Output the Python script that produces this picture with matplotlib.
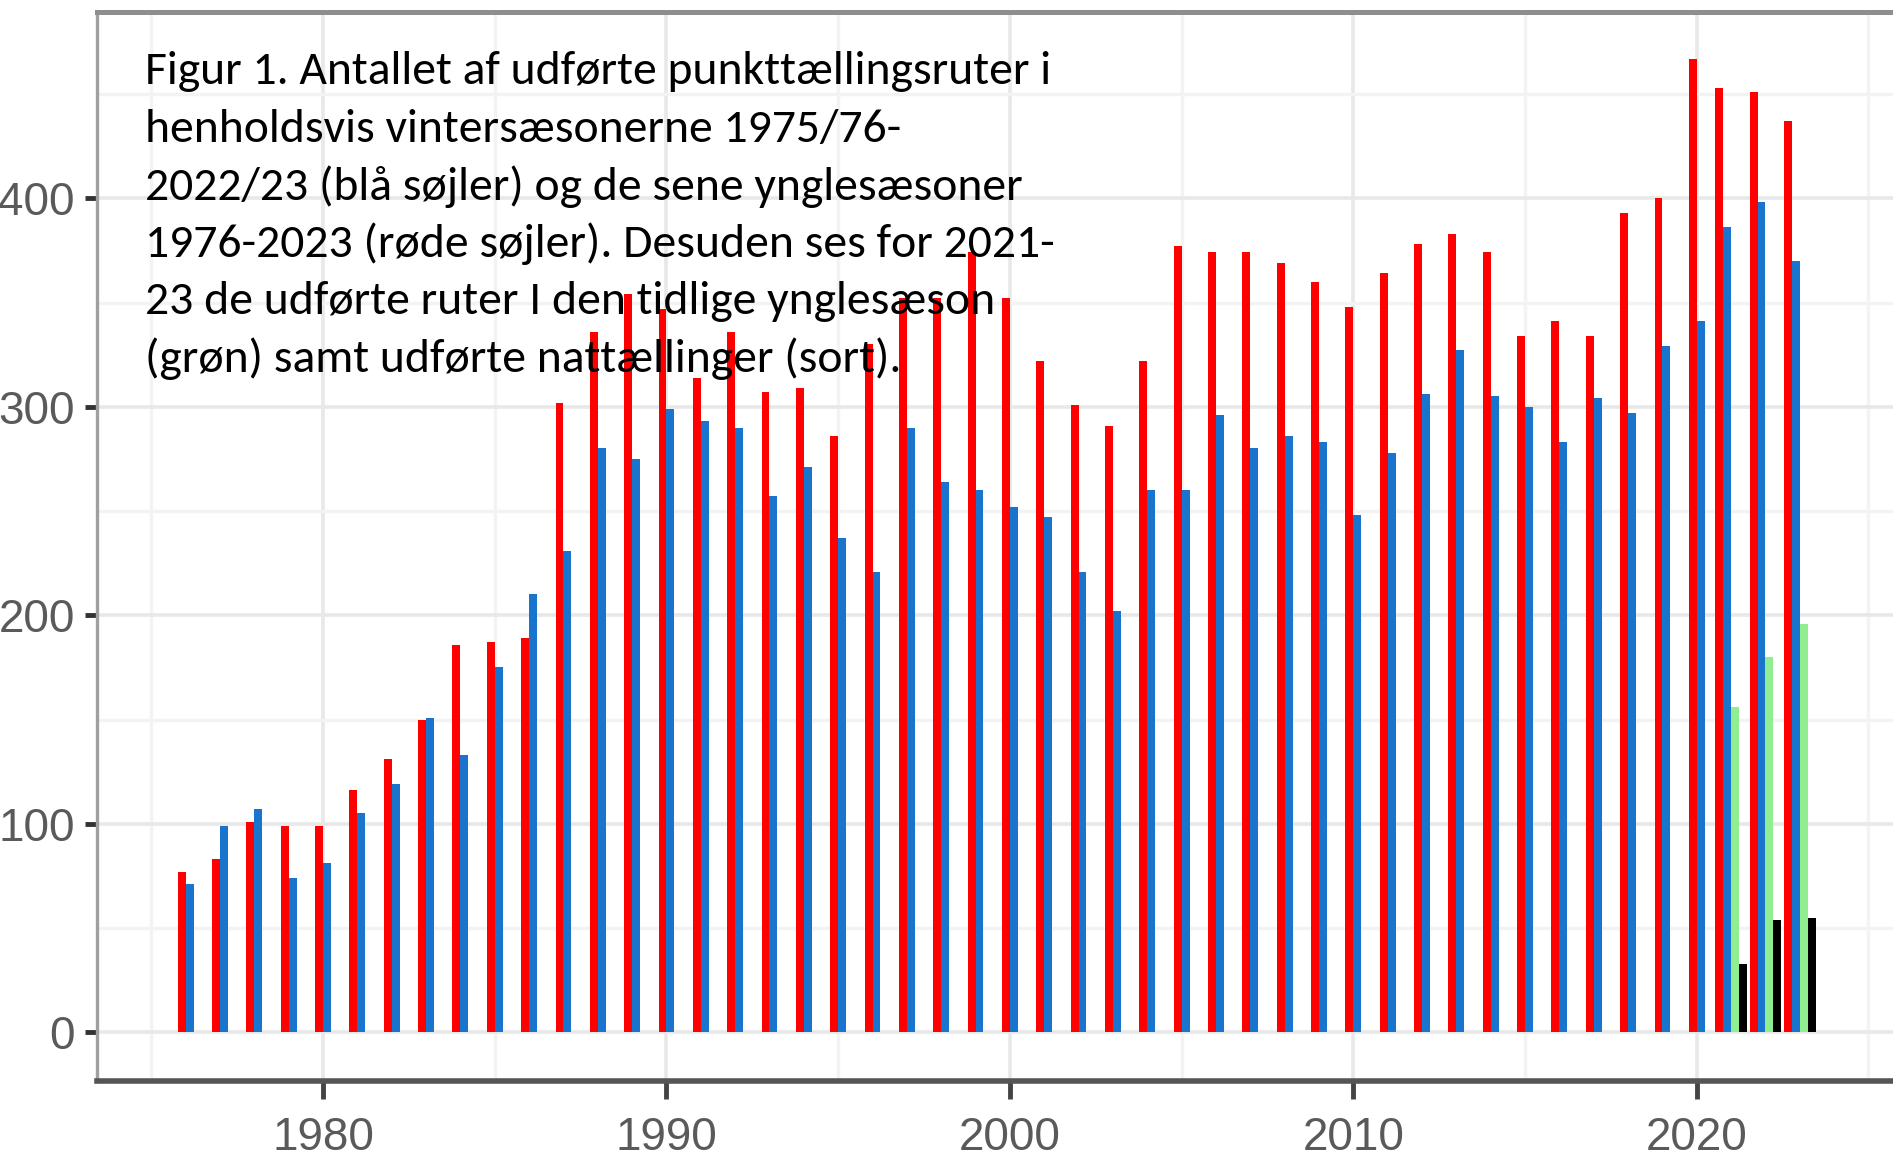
import numpy as np
import matplotlib
matplotlib.use("Agg")
import matplotlib.pyplot as plt
from matplotlib import font_manager as fm

# --- data ---
years = np.arange(1976, 2024)
late_breeding = [77, 83, 101, 99, 99, 116, 131, 150, 186, 187,
                 189, 302, 336, 354, 347, 314, 336, 307, 309, 286,
                 330, 352, 352, 374, 352, 322, 301, 291, 322, 377,
                 374, 374, 369, 360, 348, 364, 378, 383, 374, 334,
                 341, 334, 393, 400, 467, 453, 451, 437]
winter = [71, 99, 107, 74, 81, 105, 119, 151, 133, 175,
          210, 231, 280, 275, 299, 293, 290, 257, 271, 237,
          221, 290, 264, 260, 252, 247, 221, 202, 260, 260,
          296, 280, 286, 283, 248, 278, 306, 327, 305, 300,
          283, 304, 297, 329, 341, 386, 398, 370]
years_extra = [2021, 2022, 2023]
early_breeding = [156, 180, 196]
night = [33, 54, 55]

caption = [
    "Figur 1. Antallet af udførte punkttællingsruter i",
    "henholdsvis vintersæsonerne 1975/76-",
    "2022/23 (blå søjler) og de sene ynglesæsoner",
    "1976-2023 (røde søjler). Desuden ses for 2021-",
    "23 de udførte ruter I den tidlige ynglesæson",
    "(grøn) samt udførte nattællinger (sort).",
]

# --- style ---
W, H = 1893, 1167
DPI = 100
BAR_W = 0.23
RED = "#FF0000"
BLUE = "#1874CD"
GREEN = "#90EE90"
BLACK = "#000000"
TICK_COL = "#5A5A5A"

names = {f.name for f in fm.fontManager.ttflist}
tick_family = "Liberation Sans Narrow" if "Liberation Sans Narrow" in names else "Liberation Sans"
cap_family = "Carlito" if "Carlito" in names else "Lato"

fig = plt.figure(figsize=(W / DPI, H / DPI), dpi=DPI)
ax = fig.add_axes([97 / W, (H - 1081) / H, (1897 - 97) / W, (1081 - 12) / H])

# bars: two per year, four per year where early/night counts exist
n_extra = np.isin(years, years_extra)
off_red = np.where(n_extra, -1.5 * BAR_W, -0.5 * BAR_W)
off_blue = np.where(n_extra, -0.5 * BAR_W, 0.5 * BAR_W)
ax.bar(years + off_red, late_breeding, width=BAR_W, color=RED, zorder=3, linewidth=0)
ax.bar(years + off_blue, winter, width=BAR_W, color=BLUE, zorder=3, linewidth=0)
ye = np.array(years_extra)
ax.bar(ye + 0.5 * BAR_W, early_breeding, width=BAR_W, color=GREEN, zorder=3, linewidth=0)
ax.bar(ye + 1.5 * BAR_W, night, width=BAR_W, color=BLACK, zorder=3, linewidth=0)

ax.set_xlim(1973.42, 2025.83)
ax.set_ylim(-23.3, 489.3)

ax.set_xticks([1980, 1990, 2000, 2010, 2020])
ax.set_xticks(np.arange(1975, 2030, 10), minor=True)
ax.set_yticks([0, 100, 200, 300, 400])
ax.set_yticks(np.arange(50, 500, 100), minor=True)

ax.grid(which="major", color="#E8E8E8", linewidth=2.6, zorder=0)
ax.grid(which="minor", color="#F3F3F3", linewidth=2.4, zorder=0)
ax.set_axisbelow(True)

ax.tick_params(axis="y", which="major", length=9, width=3.5, color="#333333",
               pad=7, labelsize=33, labelcolor=TICK_COL)
ax.tick_params(axis="x", which="major", length=13, width=3.5, color="#444444",
               pad=12, labelsize=33, labelcolor=TICK_COL)
ax.tick_params(which="minor", length=0)
for lab in ax.get_xticklabels() + ax.get_yticklabels():
    lab.set_family(tick_family)

ax.spines["left"].set_color("#A0A0A0")
ax.spines["left"].set_linewidth(2.4)
ax.spines["top"].set_color("#8E8E8E")
ax.spines["top"].set_linewidth(3.6)
ax.spines["bottom"].set_color("#555555")
ax.spines["bottom"].set_linewidth(4.0)
ax.spines["right"].set_visible(False)

# caption block inside the panel
x0 = 145 / W
for i, line in enumerate(caption):
    y = 1 - (84.5 + i * 57.5) / H
    fig.text(x0, y, line, family=cap_family, fontsize=34.3, color="black",
             ha="left", va="baseline", zorder=10)

fig.savefig("out.png", dpi=DPI)
